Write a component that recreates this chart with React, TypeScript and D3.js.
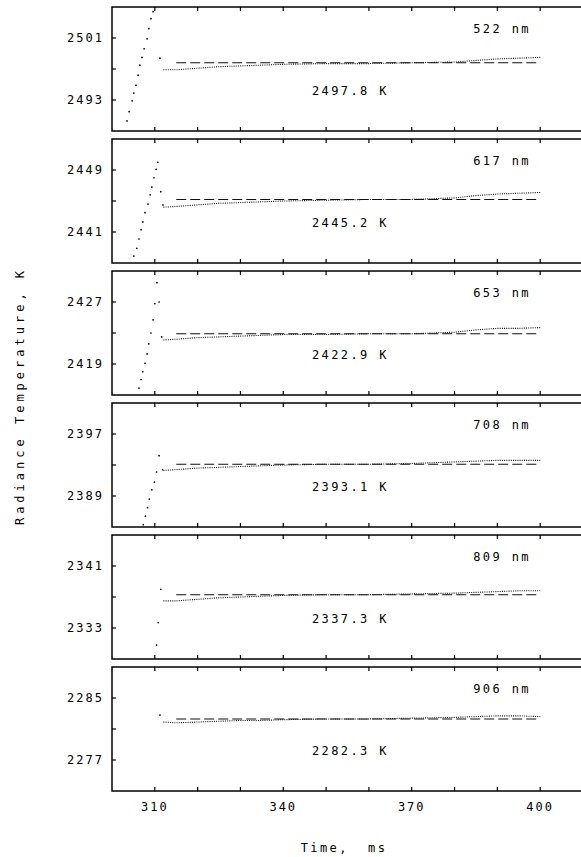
import React from "react";
import * as d3 from "d3";

const width = 581;
const height = 857;
const font = "'DejaVu Sans Mono', monospace";

// one panel per wavelength, top to bottom
const wavelengths = ["522 nm", "617 nm", "653 nm", "708 nm", "809 nm", "906 nm"];
const plateauTemps = [2497.8, 2445.2, 2422.9, 2393.1, 2337.3, 2282.3];
const yLows = [2489, 2437, 2415, 2385, 2329, 2273];
const yTickLabels = [
  [2501, 2493],
  [2449, 2441],
  [2427, 2419],
  [2397, 2389],
  [2341, 2333],
  [2285, 2277],
];

// x axis
const xTicks = [310, 320, 330, 340, 350, 360, 370, 380, 390, 400];
const xTickLabels = [310, 340, 370, 400];

// heating ramp, peak and fall (sparse dots)
const rampTimes = [
  [303.5, 304.0, 304.7, 305.1, 305.6, 306.1, 306.5, 307.0, 307.5, 308.2, 308.6, 309.1, 309.6, 311.2],
  [305.1, 305.8, 306.3, 306.8, 307.2, 307.7, 308.4, 308.9, 309.3, 309.8, 310.3, 310.7, 311.4, 311.9],
  [306.3, 306.8, 307.2, 307.7, 308.2, 308.6, 309.1, 309.6, 310.0, 310.5, 311.0, 311.6],
  [307.3, 307.8, 308.3, 308.7, 309.3, 309.9, 310.4, 311.0, 311.8],
  [310.4, 310.8, 311.4],
  [311.2],
];
const rampTemps = [
  [2490.3, 2491.5, 2492.9, 2493.9, 2494.9, 2496.2, 2497.5, 2498.5, 2499.6, 2500.9, 2502.2, 2503.5, 2504.4, 2498.4],
  [2437.9, 2438.9, 2440.1, 2441.3, 2442.3, 2443.5, 2444.6, 2445.8, 2446.8, 2448.0, 2449.1, 2450.0, 2446.2, 2444.5],
  [2415.9, 2417.0, 2418.0, 2419.1, 2420.3, 2421.6, 2423.0, 2424.7, 2426.8, 2429.5, 2427.0, 2422.5],
  [2385.3, 2386.4, 2387.5, 2388.6, 2389.8, 2390.8, 2392.1, 2394.2, 2392.4],
  [2330.8, 2333.7, 2338.0],
  [2282.8],
];

// plateau trace (dotted)
const traceTimes = [312, 315, 320, 325, 330, 335, 340, 350, 360, 370, 380, 385, 390, 395, 400];
const traceTemps = [
  [2496.9, 2496.9, 2497.1, 2497.3, 2497.4, 2497.5, 2497.6, 2497.7, 2497.7, 2497.8, 2497.9, 2498.1, 2498.3, 2498.4, 2498.5],
  [2444.2, 2444.3, 2444.5, 2444.7, 2444.8, 2444.9, 2445.0, 2445.1, 2445.2, 2445.2, 2445.4, 2445.7, 2445.9, 2446.0, 2446.1],
  [2422.1, 2422.2, 2422.4, 2422.5, 2422.6, 2422.7, 2422.8, 2422.8, 2422.9, 2422.9, 2423.1, 2423.4, 2423.6, 2423.6, 2423.7],
  [2392.3, 2392.4, 2392.6, 2392.7, 2392.8, 2392.9, 2393.0, 2393.1, 2393.1, 2393.2, 2393.4, 2393.5, 2393.6, 2393.6, 2393.6],
  [2336.5, 2336.5, 2336.7, 2336.9, 2337.0, 2337.1, 2337.2, 2337.3, 2337.3, 2337.4, 2337.5, 2337.6, 2337.7, 2337.8, 2337.8],
  [2281.9, 2281.8, 2281.9, 2282.0, 2282.1, 2282.1, 2282.2, 2282.3, 2282.3, 2282.4, 2282.5, 2282.6, 2282.7, 2282.7, 2282.6],
];
const plateauStart = 315;
const plateauEnd = 400;

const panelTop0 = 7;
const panelH = 124;
const panelStep = 132;

const x = d3.scaleLinear().domain([300, 410]).range([112, 583]);

function Panel({ i }: { i: number }) {
  const top = panelTop0 + i * panelStep;
  const bottom = top + panelH;
  const y = d3.scaleLinear().domain([yLows[i], yLows[i] + 16]).range([bottom, top]);
  const yTicks = [yLows[i] + 4, yLows[i] + 8, yLows[i] + 12];
  const line = d3
    .line<number>()
    .x((_, k) => x(traceTimes[k]))
    .y((d) => y(d));
  const clipId = `clip${i}`;
  const x0 = x(300);
  const x1 = x(410);
  return (
    <g>
      <clipPath id={clipId}>
        <rect x={x0} y={top} width={x1 - x0} height={panelH} />
      </clipPath>
      <g clipPath={`url(#${clipId})`}>
        {rampTimes[i].map((t, k) => (
          <circle key={k} cx={x(t)} cy={y(rampTemps[i][k])} r={0.85} fill="#000" />
        ))}
        <path
          d={line(traceTemps[i]) || ""}
          fill="none"
          stroke="#111"
          strokeWidth={1.1}
          strokeDasharray="1,1.2"
        />
        <line
          x1={x(plateauStart)}
          x2={x(plateauEnd)}
          y1={y(plateauTemps[i])}
          y2={y(plateauTemps[i])}
          stroke="#111"
          strokeWidth={1.1}
          strokeDasharray="10,4"
        />
      </g>
      {/* frame: left, top, bottom (right edge is off the page) */}
      <path
        d={`M${x1},${top}H${x0}V${bottom}H${x1}`}
        fill="none"
        stroke="#000"
        strokeWidth={1.5}
      />
      {xTicks.map((t) => (
        <g key={t}>
          <line x1={x(t)} x2={x(t)} y1={top} y2={top + 4} stroke="#000" strokeWidth={1.2} />
          <line x1={x(t)} x2={x(t)} y1={bottom} y2={bottom - 4} stroke="#000" strokeWidth={1.2} />
        </g>
      ))}
      {yTicks.map((v) => (
        <line key={v} x1={x0} x2={x0 + 4} y1={y(v)} y2={y(v)} stroke="#000" strokeWidth={1.2} />
      ))}
      {yTickLabels[i].map((v) => (
        <text
          key={v}
          x={104}
          y={y(v)}
          dy="0.35em"
          textAnchor="end"
          fontFamily={font}
          fontSize={12}
          letterSpacing={2}
        >
          {v}
        </text>
      ))}
      <text
        x={531}
        y={top + 22}
        dy="0.35em"
        textAnchor="end"
        fontFamily={font}
        fontSize={12}
        letterSpacing={2.4}
      >
        {wavelengths[i]}
      </text>
      <text
        x={312}
        y={top + 84}
        dy="0.35em"
        fontFamily={font}
        fontSize={12}
        letterSpacing={2.4}
      >
        {`${plateauTemps[i].toFixed(1)} K`}
      </text>
    </g>
  );
}

export default function App() {
  const lastBottom = panelTop0 + 5 * panelStep + panelH;
  return (
    <svg
      width={width}
      height={height}
      style={{ position: "absolute", left: 0, top: 0, background: "#fff" }}
    >
      {wavelengths.map((_, i) => (
        <Panel key={i} i={i} />
      ))}
      {xTickLabels.map((t) => (
        <text
          key={t}
          x={x(t)}
          y={lastBottom + 16}
          dy="0.35em"
          textAnchor="middle"
          fontFamily={font}
          fontSize={12}
          letterSpacing={2}
        >
          {t}
        </text>
      ))}
      <text
        x={344}
        y={848}
        dy="0.35em"
        textAnchor="middle"
        fontFamily={font}
        fontSize={12}
        letterSpacing={2.4}
        style={{ whiteSpace: "pre" }}
      >
        {"Time,  ms"}
      </text>
      <text
        transform={`translate(20, 396) rotate(-90)`}
        dy="0.35em"
        textAnchor="middle"
        fontFamily={font}
        fontSize={12}
        letterSpacing={4}
      >
        Radiance Temperature, K
      </text>
    </svg>
  );
}
